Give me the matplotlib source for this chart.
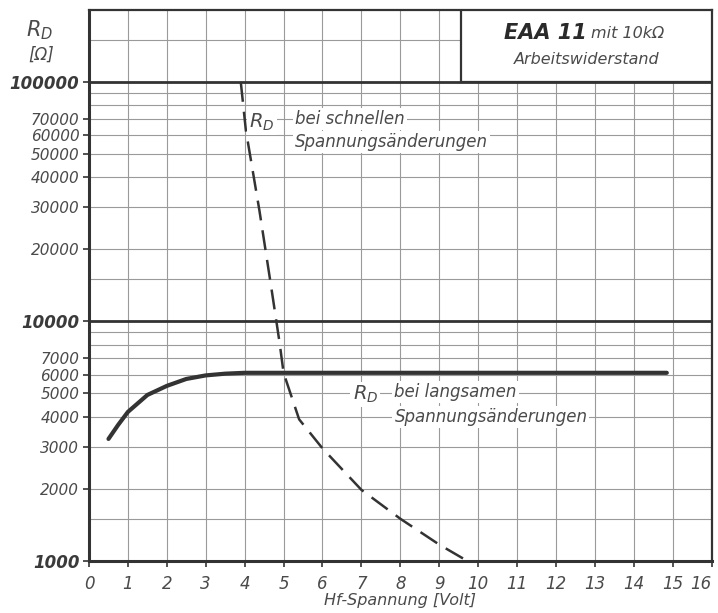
import numpy as np
import matplotlib.pyplot as plt
from matplotlib.patches import Rectangle

# Werte
langsam_x = [0.5, 0.75, 1.0, 1.5, 2.0, 2.5, 3.0, 3.5, 4.0, 6.0, 10.0, 14.85]
langsam_y = [3230, 3700, 4190, 4930, 5380, 5750, 5950, 6050, 6100, 6100, 6100, 6100]

schnell_x = [3.9, 4.03, 4.38, 4.68, 4.9, 5.0, 5.4, 6.0, 7.0, 8.0, 9.0, 9.72]
schnell_y = [100000, 63000, 29000, 14000, 8100, 6100, 3900, 2950, 1980, 1500, 1170, 1000]

x_ticks = list(range(0, 17))
y_ticks = [2000, 3000, 4000, 5000, 6000, 7000,
           20000, 30000, 40000, 50000, 60000, 70000]
y_major = [1000, 10000, 100000]
y_grid = [1500, 2000, 3000, 4000, 5000, 6000, 7000, 8000, 9000,
          15000, 20000, 30000, 40000, 50000, 60000, 70000, 80000, 90000, 150000]

ink = "#333333"
grid_col = "#9a9a9a"
txt_col = "#4a4a4a"
fam = ["DejaVu Sans"]

fig = plt.figure(figsize=(7.18, 6.13), dpi=100)
ax = fig.add_axes([0.124, 0.085, 0.867, 0.899])
ax.set_yscale("log")
ax.set_xlim(0, 16)
ax.set_ylim(1000, 200000)

# Gitter
for x in x_ticks[1:-1]:
    ax.axvline(x, color=grid_col, lw=0.8, zorder=1)
for y in y_grid:
    ax.axhline(y, color=grid_col, lw=0.8, zorder=1)
for y in y_major[1:]:
    ax.axhline(y, color=ink, lw=2.0, zorder=2)

for s in ax.spines.values():
    s.set_color(ink)
    s.set_linewidth(1.6)
ax.spines["left"].set_linewidth(2.2)
ax.spines["bottom"].set_linewidth(2.2)

# Kurven
ax.plot(langsam_x, langsam_y, color=ink, lw=3.0, solid_capstyle="round", zorder=4)
ax.plot(schnell_x, schnell_y, color=ink, lw=1.8, dashes=(8, 4), zorder=4)

# Achsen
ax.minorticks_off()
ax.set_xticks(x_ticks)
xlabels = ax.set_xticklabels([str(v) for v in x_ticks], fontsize=12, style="italic",
                             color=txt_col, family=fam)
xlabels[-1].set_horizontalalignment("right")
ax.set_yticks(y_ticks + y_major)
ax.set_yticklabels([str(v) for v in y_ticks] + ["1000", "10000", "100000"],
                   fontsize=11, style="italic", color=txt_col, family=fam)
for lab in ax.get_yticklabels()[-3:]:
    lab.set_fontsize(12)
    lab.set_fontweight("bold")
    lab.set_color("#3a3a3a")
ax.tick_params(axis="both", direction="out", length=4, width=1.2, color=ink, pad=3)
ax.tick_params(axis="x", pad=6)

ax.set_xlabel("Hf-Spannung [Volt]", fontsize=11.5, style="italic", color=txt_col,
              family=fam, labelpad=0)

fig.text(0.055, 0.95, r"$R_D$", fontsize=15, color=txt_col, ha="center", va="center")
fig.text(0.058, 0.91, "[Ω]", fontsize=12, color=txt_col, ha="center", va="center",
         style="italic", family=fam)

# Kasten oben rechts
ax.add_patch(Rectangle((9.55, 100000), 6.45, 100000, facecolor="white",
                       edgecolor=ink, lw=1.6, zorder=5))
ax.text(12.8, 160000, "EAA 11", fontsize=15, fontweight="bold", style="italic",
        color="#2a2a2a", ha="right", va="center", zorder=6, family=fam)
ax.text(12.9, 160000, "mit 10kΩ", fontsize=11.5, style="italic",
        color=txt_col, ha="left", va="center", zorder=6, family=fam)
ax.text(12.8, 124000, "Arbeitswiderstand", fontsize=11.5, style="italic",
        color=txt_col, ha="center", va="center", zorder=6, family=fam)

# Beschriftungen der Kurven
box = dict(facecolor="white", edgecolor="none", pad=1.5)
ax.text(4.45, 68000, r"$R_D$", fontsize=14, color=txt_col, ha="center",
        va="center", zorder=6, bbox=box)
ax.text(5.3, 70000, "bei schnellen", fontsize=12, style="italic", color=txt_col,
        ha="left", va="center", zorder=6, family=fam, bbox=box)
ax.text(5.3, 56000, "Spannungsänderungen", fontsize=12, style="italic",
        color=txt_col, ha="left", va="center", zorder=6, family=fam, bbox=box)

ax.text(7.1, 4950, r"$R_D$", fontsize=14, color=txt_col, ha="center",
        va="center", zorder=6, bbox=box)
ax.text(7.85, 5050, "bei langsamen", fontsize=12, style="italic", color=txt_col,
        ha="left", va="center", zorder=6, family=fam, bbox=box)
ax.text(7.85, 4000, "Spannungsänderungen", fontsize=12, style="italic",
        color=txt_col, ha="left", va="center", zorder=6, family=fam, bbox=box)

fig.savefig("out.png", dpi=100, facecolor="white")
